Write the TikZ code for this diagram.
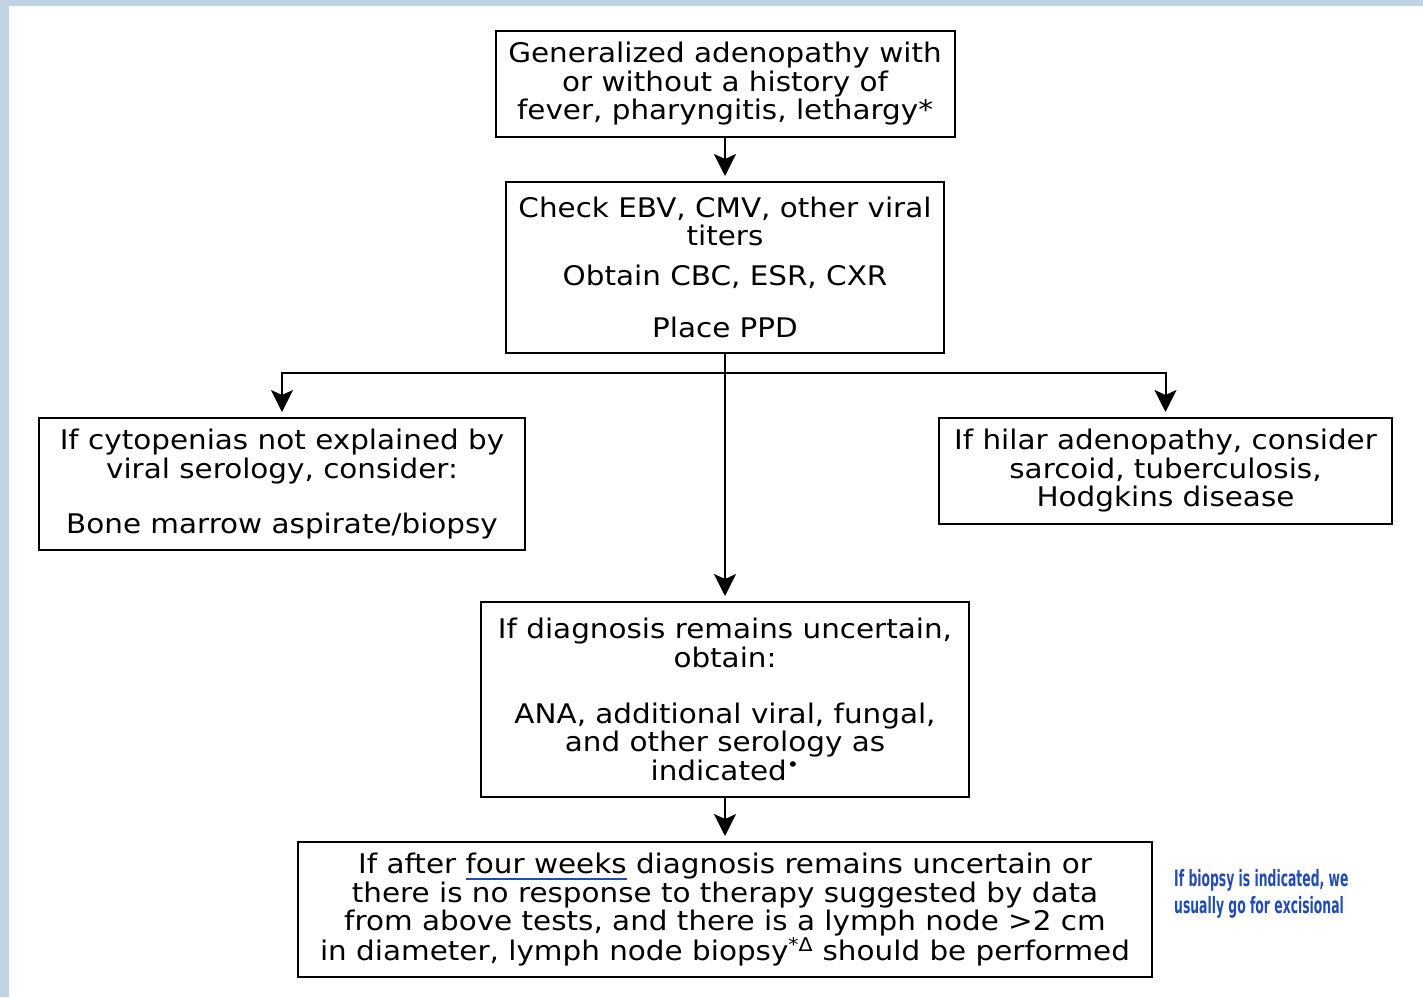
\documentclass[tikz,border=0pt]{standalone}
\usepackage{fontspec}
\setmainfont[FakeStretch=1.09]{DejaVu Sans}
\newfontfamily\notefont[FakeStretch=0.55]{DejaVu Sans}
\usetikzlibrary{positioning, calc, arrows.meta}
\definecolor{frameblue}{RGB}{191,211,229}
\definecolor{noteblue}{RGB}{35,75,180}
\newcommand\bluescore[1]{\setbox0\hbox{#1}\rlap{\color{noteblue}\rule[-6pt]{\wd0}{2pt}}\box0\relax}

\begin{document}
\begin{tikzpicture}[x=1pt, y=-1pt,
        box/.style={draw, line width=2pt, inner sep=0pt, align=center, text=black,
            font=\fontsize{27}{28.5}\selectfont},
        flow/.style={line width=2pt, -{Stealth[length=22pt, width=22pt, inset=5pt]}, shorten >=5pt}]
        \useasboundingbox (0, 0) rectangle (1423, 997);
        \fill[white] (0, 0) rectangle (1423, 997);
        \fill[frameblue] (0, 0) rectangle (1423, 6);
        \fill[frameblue] (0, 0) rectangle (9, 997);
        \path (725, 84) node[box, minimum width=459pt, minimum height=106pt](Start){Generalized adenopathy with \\ or without a history of \\ fever, pharyngitis, lethargy*};
        \path (725, 267.5) node[box, minimum width=438pt, minimum height=171pt](Titers){Check EBV, CMV, other viral \\ titers \\[11.5pt] Obtain CBC, ESR, CXR \\[23.5pt] Place PPD};
        \path (282, 484) node[box, minimum width=486pt, minimum height=132pt](Cytopenia){If cytopenias not explained by \\ viral serology, consider: \\[26.5pt] Bone marrow aspirate/biopsy};
        \path (1165.5, 471) node[box, minimum width=453pt, minimum height=106pt](Hilar){If hilar adenopathy, consider \\ sarcoid, tuberculosis, \\ Hodgkins disease};
        \path (725, 699.5) node[box, minimum width=488pt, minimum height=195pt](Uncertain){If diagnosis remains uncertain, \\ obtain: \\[27.5pt] ANA, additional viral, fungal, \\ and other serology as \\ indicated\textsuperscript{•}};
        \path (725, 909.5) node[box, minimum width=854pt, minimum height=135pt](Biopsy){If after \bluescore{four weeks} diagnosis remains uncertain or \\ there is no response to therapy suggested by data \\ from above tests, and there is a lymph node >2 cm \\ in diameter, lymph node biopsy\textsuperscript{*Δ} should be performed};
        \path (1174, 894) node[anchor=west, inner sep=0pt, align=left, text=noteblue,
            font=\notefont\bfseries\fontsize{22.5}{27}\selectfont](Note){If biopsy is indicated, we \\ usually go for excisional};
        \coordinate (Split) at (725, 373);
        \draw[flow] (Start) -- (Titers);
        \draw[flow] (Titers) -- (Uncertain);
        \draw[flow] (Split) -| (Cytopenia.north);
        \draw[flow] (Split) -| (Hilar.north);
        \draw[flow] (Uncertain) -- (Biopsy);
    \end{tikzpicture}
\end{document}
